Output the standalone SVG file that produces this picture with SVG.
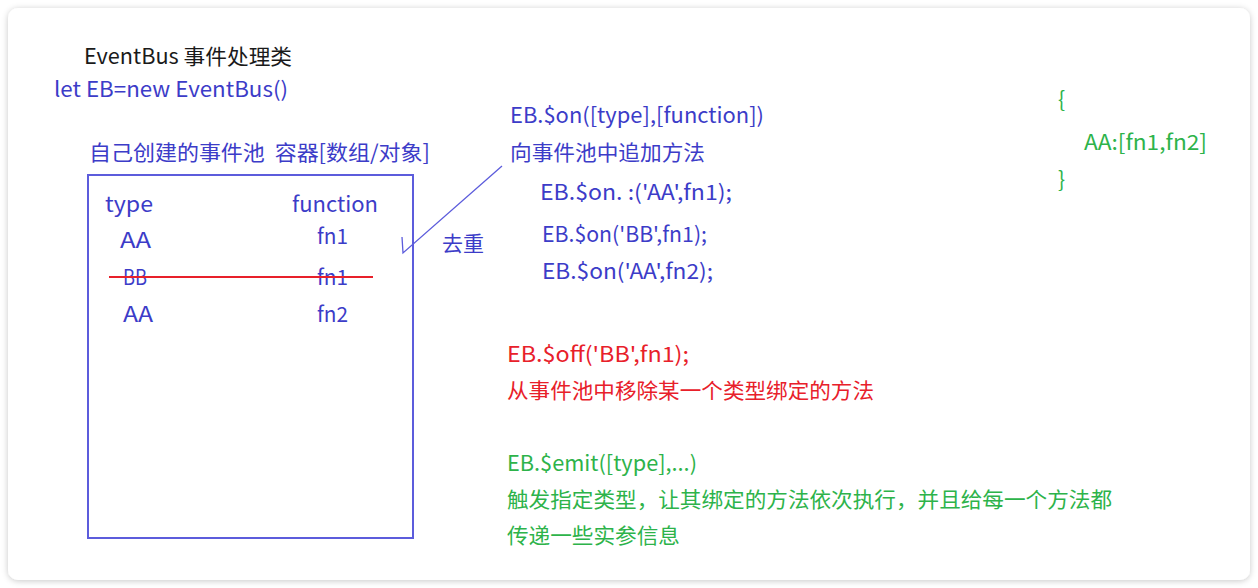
<svg xmlns="http://www.w3.org/2000/svg" width="1258" height="588" viewBox="0 0 1258 588">
<defs>
<filter id="sh" x="-5%" y="-5%" width="110%" height="110%">
<feDropShadow dx="0" dy="1" stdDeviation="3" flood-color="#000" flood-opacity="0.22"/>
</filter>
<style>
text{font-family:"Microsoft YaHei","Noto Sans CJK SC","Noto Sans",sans-serif;font-size:21px}
.k{fill:#1a1a1a}
.b{fill:#3c3cc8}
.r{fill:#e8202a}
.g{fill:#2db34a}
</style>
</defs>
<rect width="1258" height="588" fill="#ffffff"/>
<rect x="8" y="8" width="1242" height="572" rx="10" fill="#ffffff" filter="url(#sh)"/>

<g id="header">
<text class="k" x="84" y="64" textLength="208" lengthAdjust="spacingAndGlyphs">EventBus 事件处理类</text>
<text class="b" x="54" y="97" textLength="234" lengthAdjust="spacingAndGlyphs">let EB=new EventBus()</text>
</g>

<g id="pool">
<text class="b" x="89" y="160" textLength="341" lengthAdjust="spacingAndGlyphs">自己创建的事件池&#160;&#160;容器[数组/对象]</text>
<rect x="88" y="175" width="325" height="363" fill="none" stroke="#5c5cdc" stroke-width="2"/>
<text class="b" x="105" y="212" textLength="48" lengthAdjust="spacingAndGlyphs">type</text>
<text class="b" x="292" y="212" textLength="86" lengthAdjust="spacingAndGlyphs">function</text>
<text class="b" x="120" y="248" textLength="31" lengthAdjust="spacingAndGlyphs">AA</text>
<text class="b" x="317" y="244" textLength="31" lengthAdjust="spacingAndGlyphs">fn1</text>
<text class="b" x="123" y="285" textLength="24" lengthAdjust="spacingAndGlyphs">BB</text>
<text class="b" x="317" y="285" textLength="31" lengthAdjust="spacingAndGlyphs">fn1</text>
<line x1="109" y1="277" x2="373" y2="277" stroke="#e8202a" stroke-width="2"/>
<text class="b" x="123" y="322" textLength="30" lengthAdjust="spacingAndGlyphs">AA</text>
<text class="b" x="317" y="322" textLength="31" lengthAdjust="spacingAndGlyphs">fn2</text>
</g>

<g id="connectors">
<path d="M502,166 L403,253 L402,237" fill="none" stroke="#5c5cdc" stroke-width="1.3"/>
</g>

<g id="dedupe">
<text class="b" x="442" y="251" textLength="42" lengthAdjust="spacingAndGlyphs">去重</text>
</g>

<g id="on">
<text class="b" x="510" y="123" textLength="254" lengthAdjust="spacingAndGlyphs">EB.$on([type],[function])</text>
<text class="b" x="510" y="160" textLength="195" lengthAdjust="spacingAndGlyphs">向事件池中追加方法</text>
<text class="b" x="540" y="200" textLength="192" lengthAdjust="spacingAndGlyphs">EB.$on. :('AA',fn1);</text>
<text class="b" x="542" y="242" textLength="165" lengthAdjust="spacingAndGlyphs">EB.$on('BB',fn1);</text>
<text class="b" x="542" y="279" textLength="171" lengthAdjust="spacingAndGlyphs">EB.$on('AA',fn2);</text>
</g>

<g id="off">
<text class="r" x="507" y="362" textLength="182" lengthAdjust="spacingAndGlyphs">EB.$off('BB',fn1);</text>
<text class="r" x="507" y="398" textLength="367" lengthAdjust="spacingAndGlyphs">从事件池中移除某一个类型绑定的方法</text>
</g>

<g id="emit">
<text class="g" x="507" y="471" textLength="190" lengthAdjust="spacingAndGlyphs">EB.$emit([type],...)</text>
<text class="g" x="507" y="507" textLength="605" lengthAdjust="spacingAndGlyphs">触发指定类型，让其绑定的方法依次执行，并且给每一个方法都</text>
<text class="g" x="507" y="543" textLength="173" lengthAdjust="spacingAndGlyphs">传递一些实参信息</text>
</g>

<g id="result">
<text class="g" x="1058" y="107">{</text>
<text class="g" x="1084" y="150" textLength="123" lengthAdjust="spacingAndGlyphs">AA:[fn1,fn2]</text>
<text class="g" x="1058" y="187">}</text>
</g>
</svg>
